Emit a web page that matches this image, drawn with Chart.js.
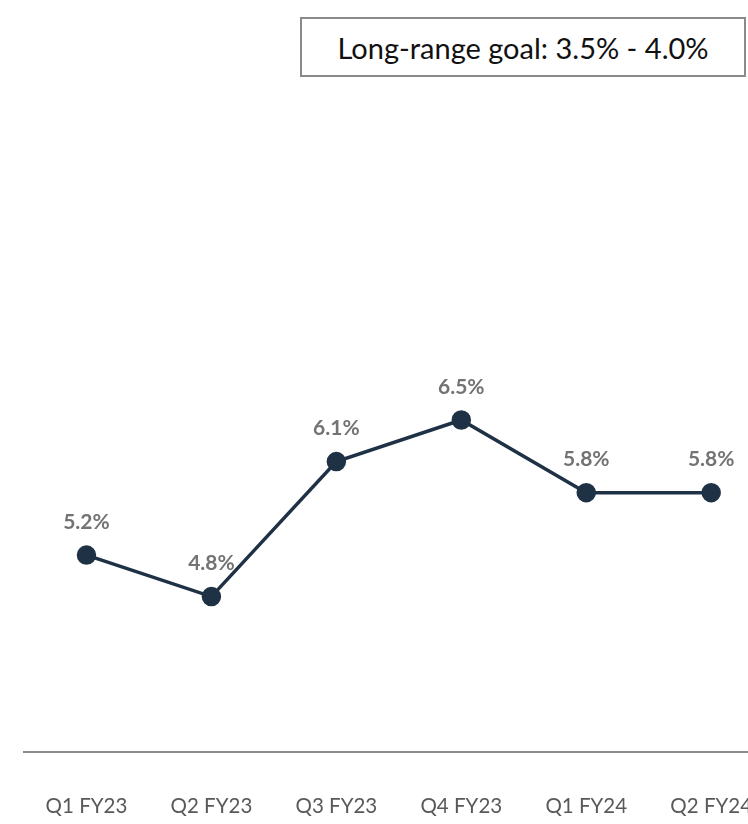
<!DOCTYPE html>
<html>
<head>
<meta charset="utf-8">
<script src="https://cdn.jsdelivr.net/npm/chart.js@4/dist/chart.umd.min.js"></script>
<style>
  html, body { margin: 0; padding: 0; background: #fff; overflow: hidden; }
  #wrap { position: relative; width: 748px; height: 824px; overflow: hidden; }
  #goalBox {
    position: absolute; left: 300px; top: 17px; width: 442px; height: 56px;
    border: 2px solid #8a8a8a; background: #fff;
    font-family: Lato, "Open Sans", sans-serif; font-size: 29px; color: #111;
    display: flex; align-items: center; justify-content: center;
  }
  canvas { position: absolute; left: 0; top: 0; }
</style>
</head>
<body>
<div id="wrap">
  <canvas id="ratioChart" width="795" height="870"></canvas>
  <div id="goalBox">Long-range goal: 3.5% - 4.0%</div>
</div>
<script>
const quarters = ["Q1 FY23", "Q2 FY23", "Q3 FY23", "Q4 FY23", "Q1 FY24", "Q2 FY24"];
const ratioValues = [5.2, 4.8, 6.1, 6.5, 5.8, 5.8];
const yMin = 3.3;
const yMax = 9.6;

// draws the bold % labels above each point
const pointLabels = {
  id: "pointLabels",
  afterDatasetsDraw(chart) {
    const ctx = chart.ctx;
    const meta = chart.getDatasetMeta(0);
    ctx.save();
    ctx.font = "bold 21px Lato, 'Open Sans', sans-serif";
    ctx.fillStyle = "#737373";
    ctx.textAlign = "center";
    ctx.textBaseline = "middle";
    meta.data.forEach((pt, i) => {
      ctx.fillText(ratioValues[i].toFixed(1) + "%", pt.x, pt.y - 33);
    });
    ctx.restore();
  },
};

new Chart(document.getElementById("ratioChart").getContext("2d"), {
  type: "line",
  data: {
    labels: quarters,
    datasets: [
      {
        data: ratioValues,
        borderColor: "#1f3145",
        borderWidth: 3.5,
        tension: 0,
        fill: false,
        pointRadius: 8,
        pointBackgroundColor: "#1f3145",
        pointBorderColor: "#1f3145",
        clip: false,
      },
    ],
  },
  options: {
    responsive: false,
    animation: false,
    layout: { padding: { left: 24, right: 0, top: 98, bottom: 9 } },
    plugins: {
      legend: { display: false },
      tooltip: { enabled: false },
    },
    scales: {
      x: {
        offset: true,
        grid: { display: false, drawTicks: false },
        border: { display: true, color: "#8c8c8c", width: 2 },
        ticks: {
          padding: 42,
          color: "#595959",
          font: { size: 20.5, family: "Lato, 'Open Sans', sans-serif" },
          maxRotation: 0,
          autoSkip: false,
        },
      },
      y: {
        display: false,
        min: yMin,
        max: yMax,
      },
    },
  },
  plugins: [pointLabels],
});
</script>
</body>
</html>
